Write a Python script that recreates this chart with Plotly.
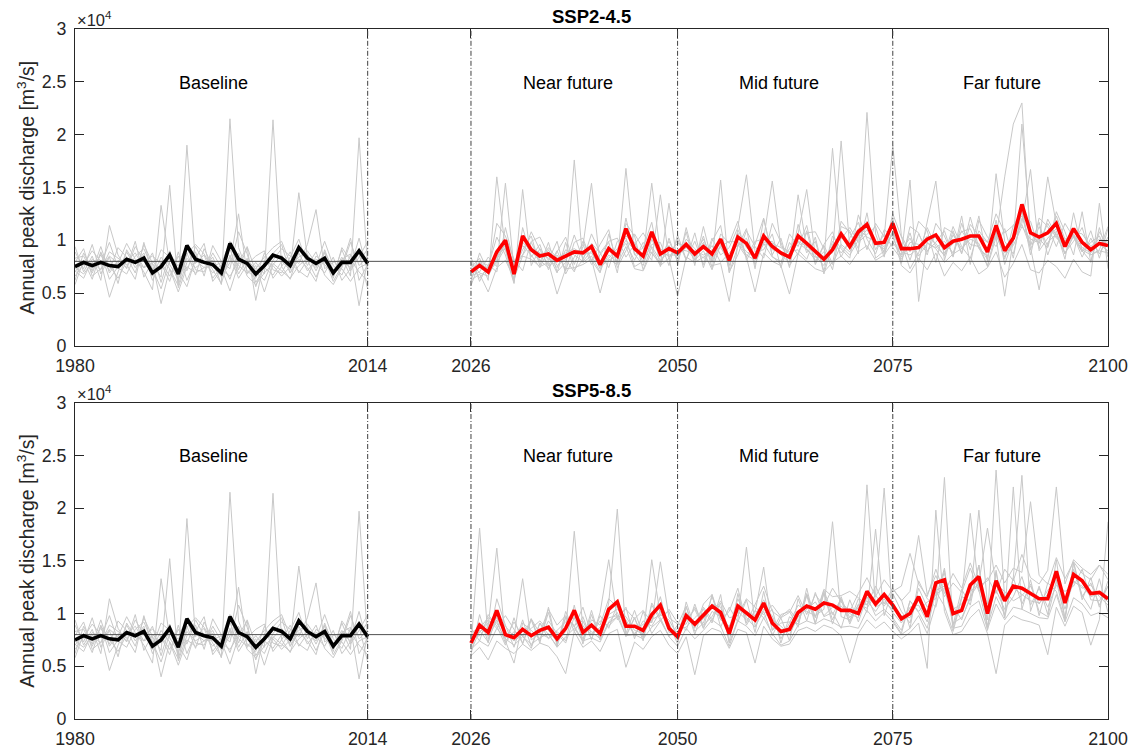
import plotly.graph_objects as go

# ---------------- data (values in 10^3 m^3/s) ----------------
years_base = list(range(1980, 2015))
years_fut = list(range(2026, 2101))

base_mean = [7.5, 7.9, 7.6, 7.9, 7.6, 7.5, 8.2, 7.9, 8.3, 6.9, 7.5, 8.6, 6.8, 9.5, 8.2, 7.9, 7.7, 6.9,
             9.7, 8.2, 7.8, 6.8, 7.6, 8.6, 8.3, 7.6, 9.3, 8.3, 7.8, 8.3, 6.9, 7.9, 7.9, 9.0, 7.8]

base_m1 = [6.2, 8.8, 7.1, 9.4, 6.9, 8.1, 7.4, 9.9, 6.5, 8.0, 7.2, 9.0, 5.9, 19.0, 7.8, 8.6, 6.4, 7.5, 9.2, 6.8,
           8.3, 5.6, 7.9, 8.8, 9.6, 6.9, 8.2, 7.4, 6.1, 9.1, 7.0, 8.4, 6.6, 19.7, 7.3]
base_m2 = [8.9, 7.3, 9.6, 6.8, 8.4, 5.9, 9.1, 7.7, 8.8, 6.2, 7.9, 6.6, 8.5, 7.1, 9.4, 7.9, 8.1, 5.8, 21.5, 9.3,
           7.1, 6.4, 8.8, 7.2, 6.9, 8.4, 10.1, 7.6, 8.9, 6.7, 5.8, 7.4, 9.8, 7.6, 8.4]
base_m3 = [7.1, 6.4, 8.2, 7.7, 9.8, 7.4, 6.8, 8.5, 9.2, 7.3, 5.4, 8.1, 7.6, 8.8, 6.7, 9.2, 7.5, 6.6, 8.4, 7.6,
           6.9, 7.9, 6.8, 21.4, 7.5, 6.3, 9.0, 8.7, 7.1, 8.8, 6.4, 9.3, 8.2, 7.0, 6.1]
base_m4 = [5.8, 8.1, 7.4, 8.6, 7.1, 9.3, 8.4, 6.9, 9.6, 7.8, 6.5, 15.2, 5.5, 7.9, 8.9, 6.6, 9.5, 8.0, 7.3, 10.8,
           8.7, 6.0, 7.4, 6.7, 8.0, 7.2, 14.5, 8.4, 7.6, 9.9, 7.6, 6.7, 8.6, 7.9, 9.2]
base_m5 = [7.9, 9.2, 6.6, 7.3, 8.5, 7.8, 9.7, 8.2, 7.0, 5.3, 13.3, 7.7, 6.3, 8.3, 7.4, 8.0, 6.9, 7.7, 9.9, 7.2,
           9.4, 7.0, 6.2, 8.1, 9.2, 8.5, 7.8, 9.6, 12.9, 7.3, 7.9, 8.1, 7.4, 10.2, 7.0]
base_m6 = [9.4, 7.0, 8.5, 6.2, 11.4, 8.6, 7.3, 9.4, 8.0, 8.5, 7.8, 6.1, 8.9, 6.2, 8.1, 7.4, 8.4, 6.5, 7.9, 12.5,
           6.8, 7.6, 5.1, 7.7, 8.6, 6.9, 8.8, 7.1, 8.2, 7.7, 6.7, 9.1, 7.1, 8.4, 9.9]
base_m7 = [6.6, 7.7, 9.0, 8.0, 4.6, 7.0, 8.9, 7.4, 8.6, 6.6, 8.4, 7.3, 5.7, 8.7, 9.6, 8.7, 7.2, 5.9, 8.6, 6.4,
           7.7, 8.5, 9.0, 6.4, 7.5, 8.9, 6.9, 8.1, 6.5, 8.3, 6.1, 7.6, 10.2, 6.2, 7.7]
base_m8 = [8.3, 8.5, 6.9, 8.8, 7.6, 6.4, 8.0, 8.8, 7.4, 8.8, 6.0, 8.7, 7.0, 5.6, 8.3, 9.7, 6.1, 7.2, 6.6, 8.0,
           9.3, 4.3, 8.1, 7.6, 6.6, 7.5, 8.4, 9.0, 7.8, 6.9, 8.4, 6.2, 7.3, 8.8, 5.4]
base_m9 = [7.4, 6.8, 7.9, 7.2, 8.9, 8.3, 7.7, 6.3, 9.8, 6.9, 9.1, 8.4, 7.9, 9.4, 7.2, 7.0, 8.8, 7.4, 5.2, 7.8,
           8.1, 7.3, 8.4, 9.3, 9.9, 7.8, 7.1, 6.5, 8.5, 7.9, 7.0, 8.2, 8.7, 3.8, 8.1]
base_m10 = [7.0, 8.1, 6.3, 8.9, 6.3, 7.5, 8.2, 8.0, 7.4, 7.8, 4.0, 7.3, 5.1, 7.5, 6.9, 7.4, 7.5, 7.9, 6.3, 8.8,
            6.6, 5.8, 6.9, 7.8, 7.1, 6.4, 7.6, 8.3, 7.4, 8.9, 7.2, 7.3, 6.1, 7.4, 7.8]

# SSP2-4.5 ensemble mean 2026-2100
ssp245_mean = [7.0, 7.6, 7.0, 8.9, 10.0, 6.8, 10.4, 9.1, 8.5, 8.7, 8.1, 8.5, 8.9, 8.8, 9.4, 7.7, 9.2, 8.5, 11.1, 9.2, 8.5, 10.8, 8.7, 9.2, 8.8,
               9.6, 8.7, 9.4, 8.7, 10.1, 8.1, 10.3, 9.7, 8.3, 10.4, 9.4, 8.8, 8.4, 10.4, 9.7, 8.9, 8.2, 9.1, 10.6, 9.4, 10.8, 11.5, 9.7, 9.8, 11.6,
               9.2, 9.2, 9.3, 10.1, 10.5, 9.3, 9.9, 10.1, 10.4, 10.4, 8.9, 11.4, 9.0, 10.2, 13.4, 10.7, 10.3, 10.7, 11.6, 9.4, 11.1, 9.8, 9.1, 9.7, 9.5]

ssp245_a = [7.4, 8.3, 6.2, 16.0, 9.1, 6.0, 11.2, 8.4, 9.6, 7.2, 8.9, 10.3, 7.7, 9.9, 8.1, 6.9, 10.6, 7.8, 12.1, 8.6, 9.3, 11.7, 7.5, 10.2, 7.9,
            10.8, 7.6, 11.3, 8.0, 15.7, 6.9, 9.4, 11.1, 7.3, 12.0, 8.6, 10.2, 7.4, 11.5, 8.8, 9.9, 7.1, 10.4, 9.2, 8.3, 12.4, 10.1, 8.7, 11.0, 10.3,
            8.4, 10.7, 7.9, 11.8, 15.6, 8.1, 10.9, 8.8, 12.2, 9.3, 7.6, 10.8, 8.2, 11.4, 12.3, 9.5, 11.7, 8.6, 10.9, 8.2, 12.6, 9.0, 8.0, 10.8, 9.4]
ssp245_b = [6.6, 7.0, 8.4, 7.5, 15.4, 7.3, 9.1, 10.4, 7.6, 9.8, 7.0, 7.9, 10.5, 8.2, 9.7, 8.8, 7.4, 9.9, 10.2, 7.5, 8.0, 9.6, 9.8, 7.6, 10.5,
            8.2, 9.9, 7.7, 10.2, 8.6, 9.3, 11.2, 16.2, 8.9, 9.1, 10.6, 7.4, 9.8, 8.6, 10.9, 7.7, 9.5, 7.8, 11.8, 10.7, 9.2, 12.6, 8.3, 9.0, 12.5,
            10.3, 8.1, 10.6, 9.0, 9.8, 10.9, 8.4, 11.6, 9.1, 12.3, 8.0, 16.3, 9.9, 8.7, 12.1, 11.8, 9.2, 12.0, 10.4, 8.8, 9.9, 11.2, 8.6, 9.1, 11.3]
ssp245_c = [7.8, 6.4, 7.5, 10.3, 8.6, 5.9, 14.8, 7.6, 9.2, 8.1, 9.9, 6.8, 8.4, 9.6, 7.7, 8.6, 9.8, 6.9, 11.6, 10.4, 7.2, 9.4, 8.1, 8.9, 9.7,
            9.4, 8.1, 9.0, 7.2, 9.6, 7.6, 10.7, 8.4, 9.9, 10.1, 15.6, 9.4, 8.9, 9.1, 8.2, 10.3, 6.8, 9.6, 10.1, 11.2, 9.8, 10.6, 11.3, 8.7, 10.9,
            9.7, 7.3, 8.8, 11.2, 9.4, 8.6, 11.3, 9.4, 8.3, 10.9, 9.8, 10.2, 16.0, 21.0, 23.0, 9.6, 10.1, 9.3, 12.3, 10.1, 10.4, 8.4, 10.2, 8.7, 10.3]
ssp245_d = [6.1, 8.8, 7.0, 7.9, 9.3, 7.4, 8.6, 9.8, 8.1, 7.4, 8.6, 7.3, 17.6, 7.9, 8.5, 7.0, 9.1, 8.8, 9.7, 8.1, 9.8, 8.7, 7.9, 9.5, 8.2,
            10.1, 9.2, 8.3, 9.5, 7.9, 8.8, 9.5, 10.2, 7.7, 9.8, 9.9, 8.6, 7.9, 14.3, 9.2, 8.1, 8.9, 7.7, 9.6, 8.9, 10.4, 11.8, 9.1, 10.6, 9.3,
            8.2, 9.8, 9.6, 8.9, 10.6, 8.8, 9.7, 10.8, 11.1, 9.2, 8.5, 10.7, 8.4, 9.8, 21.0, 10.6, 9.7, 11.6, 10.2, 9.6, 10.5, 8.9, 9.8, 10.4, 8.7]
ssp245_e = [7.2, 7.9, 6.8, 8.4, 9.7, 7.8, 9.5, 8.6, 7.4, 9.1, 7.6, 8.2, 7.0, 9.4, 15.4, 7.6, 8.3, 9.2, 10.4, 9.8, 7.9, 10.8, 9.2, 8.4, 9.1,
            9.0, 8.7, 10.1, 8.3, 9.4, 9.9, 9.8, 8.6, 8.1, 9.7, 8.4, 8.0, 9.2, 10.6, 14.8, 8.5, 7.6, 9.9, 8.8, 9.7, 11.1, 10.3, 9.9, 8.9, 10.8,
            9.1, 10.2, 8.5, 9.7, 9.3, 9.9, 8.8, 10.9, 9.6, 9.4, 8.2, 11.9, 7.7, 10.1, 11.6, 16.7, 9.0, 10.2, 11.1, 9.9, 10.8, 10.6, 9.4, 10.1, 9.8]
ssp245_f = [6.4, 8.0, 7.6, 8.7, 9.2, 6.7, 10.1, 9.3, 8.8, 8.3, 7.4, 9.1, 8.6, 8.0, 9.0, 7.3, 8.6, 7.9, 16.8, 8.7, 7.6, 10.1, 8.4, 9.9, 8.3,
            9.7, 8.4, 9.8, 7.9, 10.2, 7.2, 11.0, 9.3, 8.6, 10.1, 9.1, 8.9, 8.2, 9.9, 9.4, 8.8, 8.0, 18.7, 9.4, 8.6, 10.0, 11.0, 9.6, 9.2, 10.7,
            8.9, 8.6, 9.3, 10.4, 9.7, 8.5, 10.5, 9.2, 10.4, 10.2, 9.2, 10.4, 8.8, 9.5, 11.3, 10.1, 9.8, 16.0, 11.5, 8.7, 10.6, 9.3, 8.8, 9.6, 9.0]
ssp245_g = [7.9, 6.9, 6.6, 8.2, 9.6, 6.2, 9.8, 9.0, 8.0, 9.3, 8.3, 8.8, 9.2, 8.7, 8.8, 7.5, 8.1, 8.6, 10.0, 9.1, 8.4, 15.4, 8.7, 8.6, 8.6,
            9.3, 9.0, 8.6, 9.1, 9.3, 8.0, 9.9, 8.9, 8.4, 9.6, 9.7, 9.3, 8.7, 9.8, 9.1, 8.4, 8.5, 8.8, 19.4, 9.3, 10.2, 11.3, 9.8, 9.4, 10.6,
            7.6, 6.9, 8.3, 7.2, 8.8, 6.6, 7.9, 7.1, 8.4, 6.8, 7.4, 8.9, 6.5, 7.8, 9.6, 7.2, 6.9, 8.1, 7.5, 6.4, 8.2, 7.0, 6.6, 13.5, 7.3]
ssp245_h = [8.4, 6.1, 7.7, 7.0, 11.2, 7.9, 8.6, 10.8, 9.1, 7.6, 9.0, 7.1, 9.8, 10.2, 8.0, 9.6, 11.0, 7.4, 9.0, 10.6, 9.2, 8.1, 14.3, 8.2, 10.1,
            8.1, 10.7, 7.4, 9.9, 11.4, 7.0, 8.6, 10.9, 9.4, 8.3, 11.6, 9.8, 7.6, 8.8, 10.7, 10.8, 9.2, 7.2, 11.3, 10.9, 8.7, 22.1, 10.6, 8.4, 12.1,
            7.8, 11.3, 10.7, 8.6, 11.6, 10.4, 8.5, 12.3, 7.7, 11.9, 10.3, 9.4, 11.1, 8.3, 12.9, 9.1, 11.3, 9.4, 12.7, 10.8, 8.6, 12.7, 7.9, 11.2, 8.4]
ssp245_i = [5.7, 7.9, 7.2, 11.6, 10.4, 8.2, 7.1, 9.9, 10.3, 8.6, 6.9, 9.8, 7.2, 8.1, 10.6, 8.8, 9.9, 10.2, 8.4, 9.6, 10.7, 9.2, 7.7, 13.5, 7.6,
            11.2, 8.1, 10.4, 7.4, 10.6, 9.7, 11.8, 8.1, 9.6, 12.1, 8.5, 7.7, 10.6, 9.4, 11.4, 7.9, 9.6, 10.8, 8.4, 10.2, 11.7, 9.1, 11.6, 10.3, 19.0,
            10.4, 8.9, 11.8, 10.9, 7.9, 11.2, 10.7, 8.7, 11.5, 10.4, 9.8, 12.5, 10.7, 11.4, 12.8, 8.6, 12.1, 11.3, 9.4, 11.6, 10.2, 8.9, 10.9, 8.3, 11.1]
ssp245_j = [6.2, 6.8, 5.1, 7.4, 8.1, 6.4, 8.5, 8.2, 7.5, 7.9, 4.9, 7.3, 7.4, 7.7, 8.2, 5.0, 8.2, 7.7, 9.4, 7.3, 7.1, 8.9, 7.6, 8.3, 4.7,
            8.4, 7.9, 8.4, 7.6, 7.8, 4.2, 9.6, 8.4, 5.1, 8.8, 8.0, 7.6, 4.9, 8.7, 8.0, 7.3, 7.0, 7.9, 8.5, 7.7, 8.9, 9.5, 8.1, 8.6, 9.8,
            8.6, 15.7, 4.2, 9.8, 9.2, 7.9, 8.7, 9.2, 10.1, 9.7, 7.5, 10.3, 4.7, 10.1, 11.5, 9.3, 5.3, 9.8, 10.6, 8.7, 10.4, 9.1, 8.6, 9.0, 8.8]

# SSP5-8.5 ensemble mean 2026-2100
ssp585_mean = [7.2, 8.9, 8.2, 10.3, 8.0, 7.7, 8.5, 7.9, 8.4, 8.7, 7.6, 8.6, 10.3, 8.2, 8.9, 8.1, 10.4, 11.1, 8.8, 8.8, 8.4, 9.9, 10.8, 8.6, 7.8,
               9.8, 9.0, 9.8, 10.7, 10.1, 8.1, 10.7, 10.1, 9.4, 11.0, 9.1, 8.3, 8.5, 10.1, 10.7, 10.4, 11.0, 10.8, 10.3, 10.3, 10.0, 12.1, 10.9, 11.8, 10.8,
               9.5, 10.0, 11.6, 9.7, 12.9, 13.2, 10.0, 10.3, 12.7, 13.5, 10.0, 13.1, 11.2, 12.6, 12.4, 11.9, 11.4, 11.4, 14.0, 11.0, 13.7, 13.1, 11.9, 12.0, 11.4]

ssp585_a = [6.8, 18.1, 7.6, 9.4, 7.2, 8.3, 7.9, 6.7, 9.1, 8.0, 6.9, 9.6, 8.8, 7.4, 10.3, 7.5, 9.2, 10.1, 7.8, 9.6, 7.7, 10.8, 9.4, 7.9, 8.6,
            8.7, 9.6, 10.4, 9.1, 11.8, 7.2, 9.4, 16.3, 8.8, 10.2, 7.9, 9.6, 7.4, 11.4, 9.3, 12.0, 9.7, 10.1, 8.6, 11.3, 9.2, 11.6, 9.8, 10.4, 9.6,
            8.4, 11.2, 10.1, 8.6, 12.1, 10.7, 8.3, 11.4, 19.5, 12.2, 8.8, 11.6, 9.9, 13.4, 10.9, 12.8, 10.2, 9.7, 13.1, 9.6, 14.2, 11.7, 10.4, 13.3, 10.1]
ssp585_b = [7.7, 7.9, 8.8, 16.2, 7.4, 5.3, 9.1, 8.4, 7.6, 9.3, 8.1, 7.2, 9.7, 8.9, 8.0, 8.7, 9.6, 9.8, 9.4, 7.9, 9.3, 8.8, 10.2, 9.1, 7.1,
            10.6, 8.3, 9.1, 11.6, 9.4, 8.8, 10.2, 9.4, 10.1, 14.4, 8.4, 9.1, 9.2, 9.0, 11.8, 9.6, 12.2, 9.9, 11.4, 9.6, 10.8, 10.9, 11.7, 10.7, 11.9,
            10.2, 9.1, 12.4, 10.6, 11.8, 12.4, 9.1, 9.6, 11.4, 19.8, 10.9, 12.2, 10.4, 11.6, 13.5, 10.8, 12.4, 10.6, 12.7, 12.1, 12.6, 14.2, 11.3, 11.2, 12.6]
ssp585_c = [6.4, 8.4, 7.3, 9.8, 8.8, 7.8, 13.3, 7.5, 8.1, 7.7, 8.4, 9.2, 9.6, 7.6, 9.4, 8.9, 11.4, 10.6, 9.2, 8.1, 9.0, 9.2, 11.6, 8.2, 8.3,
            9.3, 10.4, 8.6, 10.2, 9.7, 8.6, 11.4, 9.6, 8.7, 10.4, 9.8, 7.6, 9.1, 10.8, 10.2, 9.8, 10.4, 18.7, 9.7, 9.4, 10.6, 11.2, 10.2, 11.4, 10.1,
            9.1, 10.6, 10.8, 9.2, 12.6, 13.8, 10.7, 9.4, 11.6, 12.9, 18.1, 12.7, 12.1, 11.2, 11.7, 12.6, 10.9, 12.2, 13.2, 10.4, 13.1, 12.4, 12.7, 11.6, 10.8]
ssp585_d = [7.9, 8.2, 9.1, 9.6, 8.1, 7.4, 8.0, 8.6, 9.3, 8.4, 7.3, 8.3, 17.8, 8.6, 8.3, 7.6, 9.9, 10.4, 9.7, 8.4, 8.1, 9.4, 9.9, 9.4, 7.9,
            10.1, 8.8, 9.5, 10.9, 10.6, 8.4, 10.3, 10.2, 9.8, 11.3, 9.4, 8.8, 8.0, 9.7, 10.4, 11.1, 9.8, 10.6, 10.7, 10.0, 9.6, 22.2, 10.6, 11.1, 10.4,
            9.8, 9.6, 11.3, 10.2, 12.2, 12.6, 10.4, 10.9, 12.1, 12.8, 9.4, 23.6, 11.4, 12.4, 11.8, 11.2, 11.0, 11.8, 13.4, 11.2, 13.0, 12.6, 11.6, 11.9, 11.1]
ssp585_e = [8.6, 7.4, 9.9, 8.8, 7.0, 9.6, 7.1, 9.4, 7.2, 10.6, 6.9, 10.2, 8.3, 9.7, 7.5, 10.1, 15.1, 9.4, 10.6, 7.6, 10.2, 8.1, 9.3, 10.4, 9.1,
            8.4, 10.9, 8.6, 11.8, 8.7, 10.6, 9.2, 11.3, 8.2, 12.1, 8.4, 9.9, 10.2, 8.7, 12.4, 9.1, 11.9, 9.0, 11.6, 9.2, 11.4, 10.1, 18.0, 9.8, 12.3,
            11.3, 8.6, 13.1, 11.4, 10.6, 14.1, 8.9, 12.3, 10.8, 14.6, 8.7, 13.9, 9.6, 22.0, 10.4, 13.2, 9.8, 12.9, 12.1, 9.4, 14.8, 11.3, 13.4, 10.6, 13.1]
ssp585_f = [6.1, 9.9, 7.2, 11.4, 8.9, 6.8, 9.4, 6.9, 9.1, 7.6, 8.3, 7.4, 10.8, 7.1, 9.9, 7.5, 11.0, 19.9, 7.9, 9.6, 7.4, 11.0, 9.6, 7.8, 8.9,
            10.7, 8.0, 10.6, 9.4, 11.0, 7.3, 11.9, 8.9, 10.3, 9.6, 10.4, 7.2, 9.7, 9.0, 11.7, 9.0, 12.0, 9.4, 11.3, 9.0, 10.9, 10.5, 11.8, 21.9, 9.4,
            8.1, 11.2, 10.2, 11.1, 11.4, 14.3, 8.6, 11.6, 11.2, 14.6, 8.4, 14.1, 9.6, 13.4, 23.1, 10.2, 12.6, 9.9, 15.1, 9.4, 14.9, 11.6, 12.9, 10.8, 12.6]
ssp585_g = [8.2, 8.6, 9.6, 9.1, 7.6, 9.2, 7.8, 9.5, 7.4, 10.1, 7.1, 9.7, 8.9, 9.3, 7.6, 9.8, 8.6, 10.9, 8.1, 10.3, 7.9, 15.1, 9.8, 10.2, 7.4,
            11.1, 8.6, 10.9, 11.8, 9.4, 10.2, 12.4, 9.1, 10.8, 12.6, 10.2, 9.6, 10.1, 11.7, 9.9, 11.8, 10.7, 12.4, 11.1, 10.2, 11.9, 13.4, 11.6, 13.2, 12.1,
            12.6, 15.7, 12.8, 11.6, 14.2, 11.9, 13.8, 12.4, 14.8, 12.6, 13.1, 14.6, 12.9, 14.3, 13.9, 20.6, 13.6, 12.8, 15.3, 13.3, 14.9, 13.8, 13.2, 14.6, 13.7]
ssp585_h = [7.9, 8.2, 9.4, 8.6, 9.8, 8.5, 7.2, 9.5, 8.1, 10.4, 8.9, 9.8, 8.7, 10.6, 8.0, 9.3, 8.8, 9.7, 10.4, 9.5, 10.3, 9.1, 14.9, 9.6, 9.0,
            9.0, 10.6, 8.9, 9.7, 11.2, 9.6, 9.8, 11.4, 10.6, 9.9, 10.8, 9.7, 10.4, 9.2, 11.9, 9.7, 12.3, 11.6, 11.7, 12.1, 11.5, 10.8, 12.6, 10.9, 12.4,
            11.2, 12.1, 17.4, 11.8, 13.6, 11.6, 12.9, 12.0, 14.3, 12.1, 13.4, 11.9, 14.2, 13.1, 15.6, 13.4, 12.8, 14.1, 22.0, 12.8, 15.1, 14.3, 13.7, 14.6, 13.2]
ssp585_i = [6.0, 6.8, 5.6, 7.4, 6.7, 6.2, 7.1, 6.5, 7.2, 6.9, 5.9, 4.3, 8.3, 6.8, 7.4, 6.4, 8.1, 8.5, 4.9, 7.3, 6.6, 7.8, 8.4, 7.0, 6.2,
            7.8, 4.2, 7.9, 8.6, 8.3, 6.7, 8.5, 8.2, 5.3, 8.8, 7.6, 6.9, 7.1, 8.4, 8.7, 8.3, 8.9, 8.6, 7.9, 5.3, 8.1, 9.4, 8.6, 9.2, 8.3,
            7.6, 8.2, 9.1, 4.8, 19.8, 10.2, 8.0, 8.3, 9.6, 10.4, 8.1, 4.3, 8.9, 9.8, 9.4, 9.2, 8.9, 6.1, 10.6, 8.8, 10.7, 10.1, 7.0, 9.4, 18.7]
ssp585_j = [6.6, 7.4, 6.9, 8.6, 7.6, 7.0, 7.8, 7.1, 7.7, 8.1, 6.8, 7.8, 8.6, 7.4, 7.7, 7.3, 9.1, 9.7, 7.9, 8.0, 7.6, 8.7, 9.4, 7.8, 6.9,
            8.6, 7.6, 8.4, 9.4, 8.8, 6.9, 9.3, 8.8, 7.9, 9.6, 8.1, 7.0, 7.4, 8.9, 9.3, 9.0, 9.5, 9.2, 8.7, 8.8, 8.6, 10.3, 9.3, 10.1, 9.2,
            8.0, 8.6, 9.8, 8.1, 10.9, 22.9, 8.6, 8.8, 10.6, 11.2, 8.5, 10.9, 9.4, 10.6, 10.4, 10.0, 9.6, 9.5, 11.8, 9.2, 11.5, 10.9, 9.8, 10.1, 9.6]

period_bounds = [2014, 2026, 2050, 2075]
period_names = ["Baseline", "Near future", "Mid future", "Far future"]
period_label_x = [1996.1, 2037.3, 2061.8, 2087.7]
period_label_y = 24900
ref_discharge = 8000
scenario_titles = ["SSP2-4.5", "SSP5-8.5"]
y_tick_vals = [0, 5000, 10000, 15000, 20000, 25000, 30000]
y_tick_text = ["0", "0.5", "1", "1.5", "2", "2.5", "3"]
x_tick_vals = [1980, 2014, 2026, 2050, 2075, 2100]

base_members = [base_m1, base_m2, base_m3, base_m4, base_m5, base_m6, base_m7, base_m8, base_m9, base_m10]
fut_members = [
    [ssp245_a, ssp245_b, ssp245_c, ssp245_d, ssp245_e, ssp245_f, ssp245_g, ssp245_h, ssp245_i, ssp245_j],
    [ssp585_a, ssp585_b, ssp585_c, ssp585_d, ssp585_e, ssp585_f, ssp585_g, ssp585_h, ssp585_i, ssp585_j],
]
fut_means = [ssp245_mean, ssp585_mean]

for m in base_members + [base_mean]:
    assert len(m) == len(years_base), len(m)
for grp in fut_members:
    for m in grp:
        assert len(m) == len(years_fut), len(m)
for m in fut_means:
    assert len(m) == len(years_fut)

K = 1000.0
FONT = "Liberation Sans, Arial, Helvetica, sans-serif"
AX = "#262626"
GREY = "#c8c8c8"

fig = go.Figure()

# page body has an 8px default margin; lay the figure out in page pixels
OFF = 8
W, H = 1140 - OFF, 751 - OFF
PL, PR = 74.7, 1108.3          # plot left/right (page px)
TOP1, BOT1 = 29.3, 346.0       # top panel (page px)
TOP2, BOT2 = 402.7, 719.0      # bottom panel (page px)
ML = PL - OFF
MR = W - (PR - OFF)
MT = TOP1 - OFF
MB = H - (BOT2 - OFF)
ph = H - MT - MB
top_dom = [(BOT2 - BOT1) / ph, 1.0]
bot_dom = [0.0, (BOT2 - TOP2) / ph]
domains = [top_dom, bot_dom]

for p in range(2):
    xa = "x" if p == 0 else "x2"
    ya = "y" if p == 0 else "y2"
    for m in base_members:
        fig.add_trace(go.Scatter(x=years_base, y=[v * K for v in m], mode="lines",
                                 line=dict(color=GREY, width=1), xaxis=xa, yaxis=ya,
                                 showlegend=False, hoverinfo="skip"))
    for m in fut_members[p]:
        fig.add_trace(go.Scatter(x=years_fut, y=[v * K for v in m], mode="lines",
                                 line=dict(color=GREY, width=1), xaxis=xa, yaxis=ya,
                                 showlegend=False, hoverinfo="skip"))
    # reference discharge line
    fig.add_trace(go.Scatter(x=[x_tick_vals[0], x_tick_vals[-1]], y=[ref_discharge, ref_discharge],
                             mode="lines", line=dict(color="#505050", width=1),
                             xaxis=xa, yaxis=ya, showlegend=False, hoverinfo="skip"))
    fig.add_trace(go.Scatter(x=years_base, y=[v * K for v in base_mean], mode="lines",
                             line=dict(color="black", width=3.6), xaxis=xa, yaxis=ya,
                             showlegend=False))
    fig.add_trace(go.Scatter(x=years_fut, y=[v * K for v in fut_means[p]], mode="lines",
                             line=dict(color="#ff0000", width=3.6), xaxis=xa, yaxis=ya,
                             showlegend=False))
    for b in period_bounds:
        fig.add_shape(type="line", xref=xa, yref=ya, x0=b, x1=b, y0=y_tick_vals[0], y1=y_tick_vals[-1],
                      line=dict(color="#404040", width=1, dash="5px,2px,1px,2px"))
    for name, lx in zip(period_names, period_label_x):
        fig.add_annotation(x=lx, y=period_label_y, xref=xa, yref=ya, text=name, showarrow=False,
                           xanchor="center", yanchor="middle",
                           font=dict(family=FONT, size=18, color="black"))
    dom = domains[p]
    fig.add_annotation(x=0.5, y=dom[1], xref="paper", yref="paper", yshift=0,
                       xanchor="center", yanchor="bottom",
                       text="<b>%s</b>" % scenario_titles[p], showarrow=False,
                       font=dict(family=FONT, size=18.5, color="black"))
    fig.add_annotation(x=0, y=dom[1], xref="paper", yref="paper", xanchor="left", yanchor="bottom",
                       xshift=0, yshift=-2, text="\u00d710<sup>4</sup>", showarrow=False,
                       font=dict(family=FONT, size=16.5, color=AX))
    fig.add_annotation(x=0, y=(dom[0] + dom[1]) / 2, xref="paper", yref="paper", xshift=-49,
                       xanchor="center", yanchor="middle",
                       text="Annual peak discharge [m<sup>3</sup>/s]", textangle=-90, showarrow=False,
                       font=dict(family=FONT, size=19.5, color=AX))

axis_common = dict(showline=True, linecolor=AX, linewidth=1, mirror="ticks", ticks="inside",
                   ticklen=9, tickcolor=AX, tickwidth=1, showgrid=False, zeroline=False,
                   tickfont=dict(family=FONT, size=17.8, color=AX))

fig.update_layout(
    width=W, height=H,
    margin=dict(l=ML, r=MR, t=MT, b=MB, autoexpand=False),
    paper_bgcolor="white", plot_bgcolor="white",
    showlegend=False,
    xaxis=dict(range=[x_tick_vals[0], x_tick_vals[-1]], tickvals=x_tick_vals, anchor="y",
               domain=[0, 1], ticklabelstandoff=4, **axis_common),
    yaxis=dict(range=[y_tick_vals[0], y_tick_vals[-1]], tickvals=y_tick_vals, ticktext=y_tick_text,
               domain=top_dom, anchor="x", ticklabelstandoff=4, **axis_common),
    xaxis2=dict(range=[x_tick_vals[0], x_tick_vals[-1]], tickvals=x_tick_vals, anchor="y2",
                domain=[0, 1], ticklabelstandoff=4, **axis_common),
    yaxis2=dict(range=[y_tick_vals[0], y_tick_vals[-1]], tickvals=y_tick_vals, ticktext=y_tick_text,
                domain=bot_dom, anchor="x2", ticklabelstandoff=4, **axis_common),
)

fig.write_html("out.html")
